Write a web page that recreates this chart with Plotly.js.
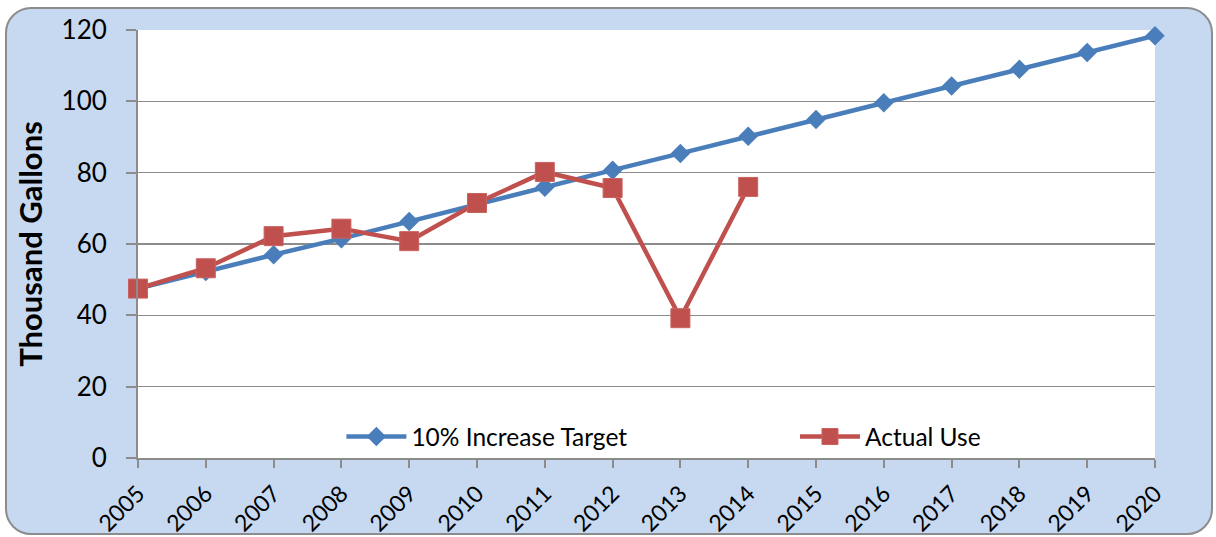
<!DOCTYPE html>
<html>
<head>
<meta charset="utf-8">
<script src="https://cdn.plot.ly/plotly-3.0.1.min.js"></script>
<style>
html,body{margin:0;padding:0;background:#ffffff;width:1216px;height:537px;overflow:hidden;}
#bg{position:absolute;left:5px;top:7px;width:1204px;height:524px;background:#c6d9f1;border:2px solid #8c8c8c;border-radius:26px;}
#chart{position:absolute;left:0;top:0;width:1216px;height:537px;}
</style>
</head>
<body>
<div id="bg"></div>
<div id="chart"></div>
<script>
var years = [2005,2006,2007,2008,2009,2010,2011,2012,2013,2014,2015,2016,2017,2018,2019,2020];
var targetValues = [47.5,52.3,57.0,61.5,66.3,71.4,75.9,80.7,85.4,90.2,94.9,99.6,104.3,109.0,113.7,118.4];
var actualYears = [2005,2006,2007,2008,2009,2010,2011,2012,2013,2014];
var actualValues = [47.5,53.2,62.2,64.3,60.8,71.5,80.2,75.7,39.2,76.0];
var yTicks = [0,20,40,60,80,100,120];
var seriesNames = ["10% Increase Target","Actual Use"];

var FONT = "Lato, 'Open Sans', sans-serif";
var traces = [
  {x: years, y: targetValues, name: seriesNames[0], type: "scatter", mode: "lines+markers",
   line: {color: "#4a7ebb", width: 4.5}, marker: {symbol: "diamond", size: 15, color: "#4a7ebb"},
   legend: "legend", cliponaxis: false},
  {x: actualYears, y: actualValues, name: seriesNames[1], type: "scatter", mode: "lines+markers",
   line: {color: "#c0504d", width: 4.5}, marker: {symbol: "square", size: 19, color: "#c0504d", line: {color: "#c9625f", width: 1}},
   legend: "legend2", cliponaxis: false}
];
var layout = {
  width: 1216, height: 537,
  margin: {l: 138, r: 61, t: 30, b: 79},
  paper_bgcolor: "rgba(0,0,0,0)",
  plot_bgcolor: "#ffffff",
  font: {family: FONT, color: "#000000"},
  xaxis: {
    range: [2005, 2020], tickvals: years, ticktext: years.map(String),
    tickangle: -45, tickfont: {size: 23, family: FONT}, ticklabelstandoff: 3,
    showgrid: false, zeroline: false, showline: true, linecolor: "#8c8c8c", linewidth: 2,
    ticks: "outside", ticklen: 8, tickcolor: "#8c8c8c", tickwidth: 2
  },
  yaxis: {
    range: [0, 120], tickvals: yTicks, tickfont: {size: 26, family: FONT}, ticklabelstandoff: 14,
    showgrid: true, gridcolor: "#8c8c8c", gridwidth: 1.5, zeroline: false,
    showline: true, linecolor: "#8c8c8c", linewidth: 2,
    ticks: "outside", ticklen: 10, tickcolor: "#8c8c8c", tickwidth: 2,
    title: {text: "<b>Thousand Gallons</b>", font: {size: 31, family: FONT}, standoff: 10}
  },
  legend: {x: 0.2, y: 0.05, xanchor: "left", yanchor: "middle", bgcolor: "rgba(0,0,0,0)",
    font: {size: 24.5, family: FONT}, itemwidth: 60, orientation: "h"},
  legend2: {x: 0.646, y: 0.05, xanchor: "left", yanchor: "middle", bgcolor: "rgba(0,0,0,0)",
    font: {size: 24.5, family: FONT}, itemwidth: 60, orientation: "h"},
  showlegend: true
};
Plotly.newPlot("chart", traces, layout, {displayModeBar: false, staticPlot: true});
</script>
</body>
</html>
